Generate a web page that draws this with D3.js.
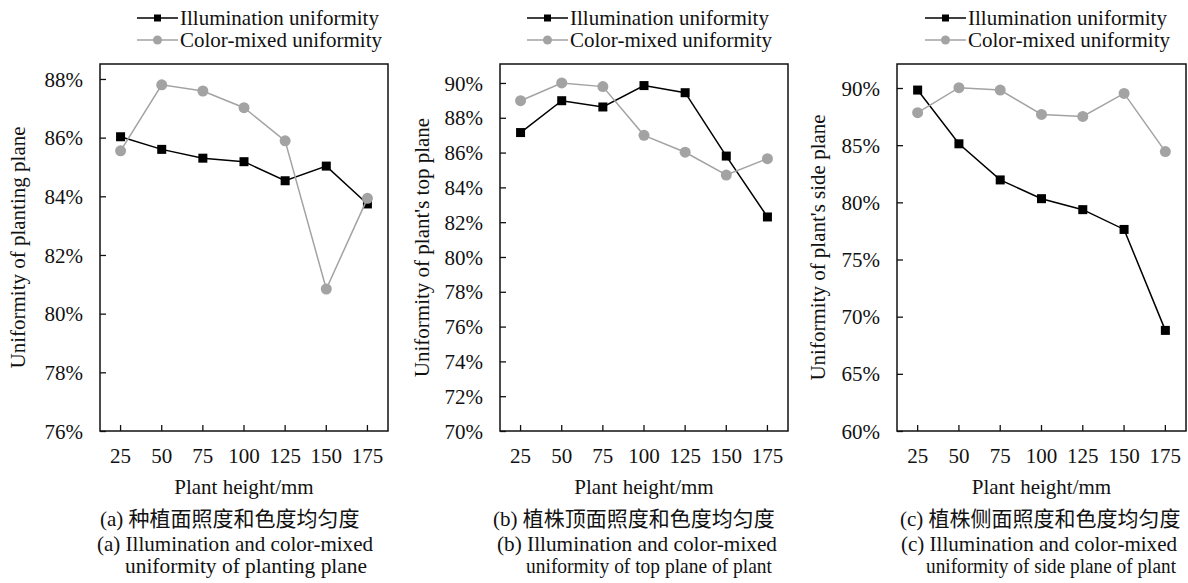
<!DOCTYPE html>
<html>
<head>
<meta charset="utf-8">
<script src="https://cdn.jsdelivr.net/npm/d3@7"></script>
<style>
  body { margin: 0; background: #fff; }
  svg text { font-family: "Liberation Serif", "Times New Roman", "Noto Sans CJK SC", serif; fill: #111; }
</style>
</head>
<body>
<div id="chart"></div>
<script>
// categories (plant height, mm)
const heights = [25, 50, 75, 100, 125, 150, 175];

// (a) planting plane
const illumPlanting = [86.03, 85.60, 85.30, 85.18, 84.53, 85.03, 83.74];
const colorPlanting = [85.55, 87.80, 87.59, 87.02, 85.89, 80.84, 83.93];

// (b) top plane of plant
const illumTop = [87.15, 88.98, 88.62, 89.85, 89.44, 85.80, 82.30];
const colorTop = [88.98, 90.00, 89.79, 86.99, 86.02, 84.71, 85.65];

// (c) side plane of plant
const illumSide = [89.82, 85.12, 81.96, 80.32, 79.36, 77.63, 68.80];
const colorSide = [87.84, 90.03, 89.82, 87.69, 87.51, 89.53, 84.44];

// y tick labels per panel
const ticksPlanting = [76, 78, 80, 82, 84, 86, 88];
const ticksTop = [70, 72, 74, 76, 78, 80, 82, 84, 86, 88, 90];
const ticksSide = [60, 65, 70, 75, 80, 85, 90];

const seriesNames = ['Illumination uniformity', 'Color-mixed uniformity'];

const yTitles = [
  'Uniformity of planting plane',
  "Uniformity of plant's top plane",
  "Uniformity of plant's side plane",
];
const captions = [
  ['(a) 种植面照度和色度均匀度', '(a) Illumination and color-mixed', 'uniformity of planting plane'],
  ['(b) 植株顶面照度和色度均匀度', '(b) Illumination and color-mixed', 'uniformity of top plane of plant'],
  ['(c) 植株侧面照度和色度均匀度', '(c) Illumination and color-mixed', 'uniformity of side plane of plant'],
];

const chartWidth = 1188;
const chartHeight = 583;
const plotTop = 64;
const plotBottom = 431;
const grey = '#a3a3a3';

const panels = [
  { left: 100, right: 388, yMax: 88.51, ticks: ticksPlanting, illum: illumPlanting, color: colorPlanting,
    legendX: 137, titleX: 18, capDx: [0, -3, 25], capLen: [null, 276, 242], capSize: [21, 21, 21] },
  { left: 500, right: 788, yMax: 91.09, ticks: ticksTop, illum: illumTop, color: colorTop,
    legendX: 527, titleX: 422, capDx: [-7, -3, 26], capLen: [null, 280, 246], capSize: [21, 21, 21] },
  { left: 897, right: 1186, yMax: 92.1, ticks: ticksSide, illum: illumSide, color: colorSide,
    legendX: 925, titleX: 818, capDx: [3, 4, 29], capLen: [null, 276, 250], capSize: [21, 21, 20] },
];

const svg = d3.select('#chart')
  .append('svg')
  .attr('width', chartWidth)
  .attr('height', chartHeight);

panels.forEach((p, i) => {
  const g = svg.append('g');

  const x = d3.scaleBand()
    .domain(heights)
    .range([p.left, p.right])
    .padding(0);
  const cx = (d) => x(d) + x.bandwidth() / 2;

  const y = d3.scaleLinear()
    .domain([p.ticks[0], p.yMax])
    .range([plotBottom, plotTop]);

  // frame
  g.append('rect')
    .attr('x', p.left)
    .attr('y', plotTop)
    .attr('width', p.right - p.left)
    .attr('height', plotBottom - plotTop)
    .attr('fill', 'none')
    .attr('stroke', '#111')
    .attr('stroke-width', 1.5);

  // y axis, inward ticks
  const yAxis = g.append('g')
    .attr('transform', `translate(${p.left},0)`)
    .call(d3.axisRight(y).tickValues(p.ticks).tickSize(6).tickFormat((t) => `${t}%`));
  yAxis.select('.domain').remove();
  yAxis.selectAll('line').attr('stroke', '#111').attr('stroke-width', 1.3);
  yAxis.selectAll('text')
    .attr('x', -17)
    .attr('dy', '0.34em')
    .attr('text-anchor', 'end')
    .style('font-size', '21px');

  // x axis, inward ticks at category centres
  const xAxis = g.append('g')
    .attr('transform', `translate(0,${plotBottom})`)
    .call(d3.axisTop(x).tickSize(6).tickFormat((d) => d));
  xAxis.select('.domain').remove();
  xAxis.selectAll('line').attr('stroke', '#111').attr('stroke-width', 1.3);
  xAxis.selectAll('text')
    .attr('y', 32)
    .attr('dy', 0)
    .style('font-size', '21px');

  // axis titles
  g.append('text')
    .attr('transform', `translate(${p.titleX},${(plotTop + plotBottom) / 2}) rotate(-90)`)
    .attr('text-anchor', 'middle')
    .attr('dy', '0.35em')
    .style('font-size', '21px')
    .text(yTitles[i]);

  g.append('text')
    .attr('x', (p.left + p.right) / 2)
    .attr('y', 494)
    .attr('text-anchor', 'middle')
    .style('font-size', '21px')
    .text('Plant height/mm');

  // captions
  const capY = [526, 551, 573];
  captions[i].forEach((c, k) => {
    const t = g.append('text')
      .attr('x', p.left + p.capDx[k])
      .attr('y', capY[k])
      .style('font-size', `${p.capSize[k]}px`)
      .text(c);
    if (p.capLen[k]) {
      t.attr('textLength', p.capLen[k]).attr('lengthAdjust', 'spacingAndGlyphs');
    }
  });

  const line = d3.line()
    .x((d, j) => cx(heights[j]))
    .y((d) => y(d));

  // illumination series
  g.append('path')
    .datum(p.illum)
    .attr('d', line)
    .attr('fill', 'none')
    .attr('stroke', '#000')
    .attr('stroke-width', 1.5);
  g.selectAll('.sq')
    .data(p.illum)
    .enter()
    .append('rect')
    .attr('class', 'sq')
    .attr('x', (d, j) => cx(heights[j]) - 4.5)
    .attr('y', (d) => y(d) - 4.5)
    .attr('width', 9)
    .attr('height', 9)
    .attr('fill', '#000');

  // colour-mixed series
  g.append('path')
    .datum(p.color)
    .attr('d', line)
    .attr('fill', 'none')
    .attr('stroke', grey)
    .attr('stroke-width', 1.5);
  g.selectAll('.dot')
    .data(p.color)
    .enter()
    .append('circle')
    .attr('class', 'dot')
    .attr('cx', (d, j) => cx(heights[j]))
    .attr('cy', (d) => y(d))
    .attr('r', 5.5)
    .attr('fill', grey);

  // legend
  const lg = g.append('g').attr('transform', `translate(${p.legendX},0)`);
  [18, 40].forEach((ly, k) => {
    lg.append('line')
      .attr('x1', 0).attr('x2', 41)
      .attr('y1', ly).attr('y2', ly)
      .attr('stroke', k === 0 ? '#000' : grey)
      .attr('stroke-width', 1.5);
    if (k === 0) {
      lg.append('rect')
        .attr('x', 20.5 - 3.5).attr('y', ly - 3.5)
        .attr('width', 7).attr('height', 7)
        .attr('fill', '#000');
    } else {
      lg.append('circle')
        .attr('cx', 20.5).attr('cy', ly)
        .attr('r', 4.5)
        .attr('fill', grey);
    }
    lg.append('text')
      .attr('x', 43)
      .attr('y', ly + 7)
      .style('font-size', '21px')
      .text(seriesNames[k]);
  });
});
</script>
</body>
</html>
